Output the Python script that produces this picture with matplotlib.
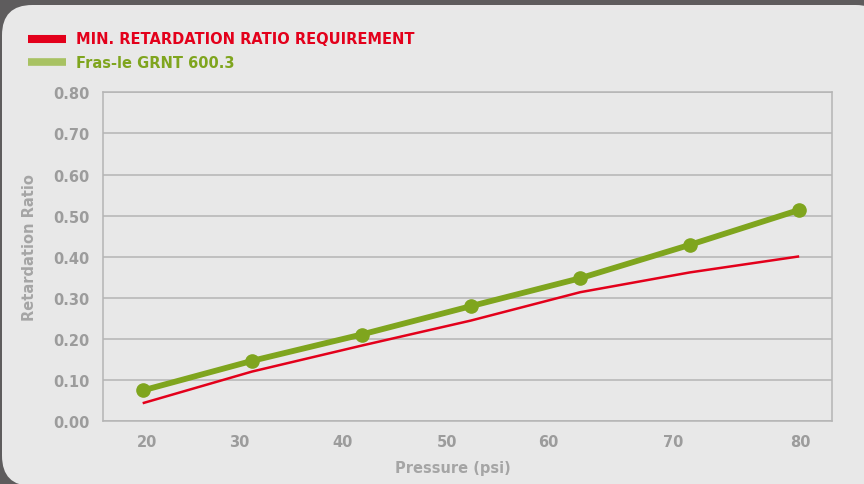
import matplotlib
matplotlib.use("Agg")
import matplotlib.pyplot as plt
from matplotlib.patches import FancyBboxPatch

# data
pressure = [20, 30, 40, 50, 60, 70, 80]
fras_le = [0.075, 0.147, 0.211, 0.280, 0.348, 0.429, 0.514]
min_req = [0.044, 0.121, 0.184, 0.245, 0.314, 0.362, 0.401]

# tick labels sit slightly off the data positions in the original
xtick_pos = [20.4, 28.8, 38.3, 47.8, 57.1, 68.5, 80.1]
xtick_labels = ["20", "30", "40", "50", "60", "70", "80"]
yticks = [0.0, 0.1, 0.2, 0.3, 0.4, 0.5, 0.6, 0.7, 0.8]

RED = "#e3001b"
GREEN = "#7fa51e"
GREEN_LIGHT = "#a8c262"
GRID = "#b5b5b5"
TICK = "#9c9c9c"
PANEL = "#e8e8e8"
W, H = 864, 485

plt.rcParams['font.family'] = ['DejaVu Sans']
fig = plt.figure(figsize=(W / 100, H / 100), dpi=100, facecolor="#5e5c5d")

# light panel with rounded corners
panel = FancyBboxPatch((2 / W, -2 / H), (W + 20) / W, (H - 6 + 2) / H,
                       boxstyle="round,pad=0,rounding_size=0.035",
                       transform=fig.transFigure, facecolor=PANEL,
                       edgecolor="none", mutation_aspect=W / H, zorder=-5)
fig.patches.append(panel)

ax = fig.add_axes([103.3 / W, (H - 422.3) / H, (832 - 103.3) / W, (422.3 - 93.3) / H])
ax.set_facecolor(PANEL)

ax.plot(pressure, min_req, color=RED, lw=1.8, solid_capstyle="butt", zorder=3)
ax.plot(pressure, fras_le, color=GREEN, lw=4.2, marker="o", ms=9.5,
        solid_capstyle="butt", zorder=4)

ax.set_xlim(16.4, 83.0)
ax.set_ylim(0, 0.8)
ax.set_yticks(yticks)
ax.set_yticklabels([f"{v:.2f}" for v in yticks])
ax.set_xticks(xtick_pos)
ax.set_xticklabels(xtick_labels)
ax.grid(axis="y", color=GRID, lw=1.1)
ax.set_axisbelow(True)
for s in ax.spines.values():
    s.set_color(GRID)
    s.set_linewidth(1.1)
ax.tick_params(length=0, colors=TICK, labelsize=10.5)
ax.tick_params(axis="y", pad=10)
ax.tick_params(axis="x", pad=9)
for lbl in ax.get_xticklabels() + ax.get_yticklabels():
    lbl.set_fontweight("bold")

# axis titles
fig.text(453 / W, 1 - 469 / H, "Pressure (psi)", ha="center", va="center",
         color="#a5a5a5", fontsize=10.5, fontweight="bold")
fig.text(30 / W, 1 - 248 / H, "Retardation Ratio", ha="center", va="center",
         rotation=90, color="#a5a5a5", fontsize=10.5, fontweight="bold")

# legend drawn by hand at the top left
fig.add_artist(plt.Line2D([28 / W, 66 / W], [1 - 40 / H] * 2, color=RED, lw=5.8,
                          solid_capstyle="butt"))
fig.add_artist(plt.Line2D([28 / W, 66 / W], [1 - 63 / H] * 2, color=GREEN_LIGHT, lw=5.5,
                          solid_capstyle="butt"))
fig.text(76 / W, 1 - 40 / H, "MIN. RETARDATION RATIO REQUIREMENT", ha="left",
         va="center", color=RED, fontsize=10.5, fontweight="bold")
fig.text(76 / W, 1 - 63 / H, "Fras-le GRNT 600.3", ha="left", va="center",
         color=GREEN, fontsize=10.5, fontweight="bold")

fig.savefig("out.png", dpi=100, facecolor=fig.get_facecolor())
